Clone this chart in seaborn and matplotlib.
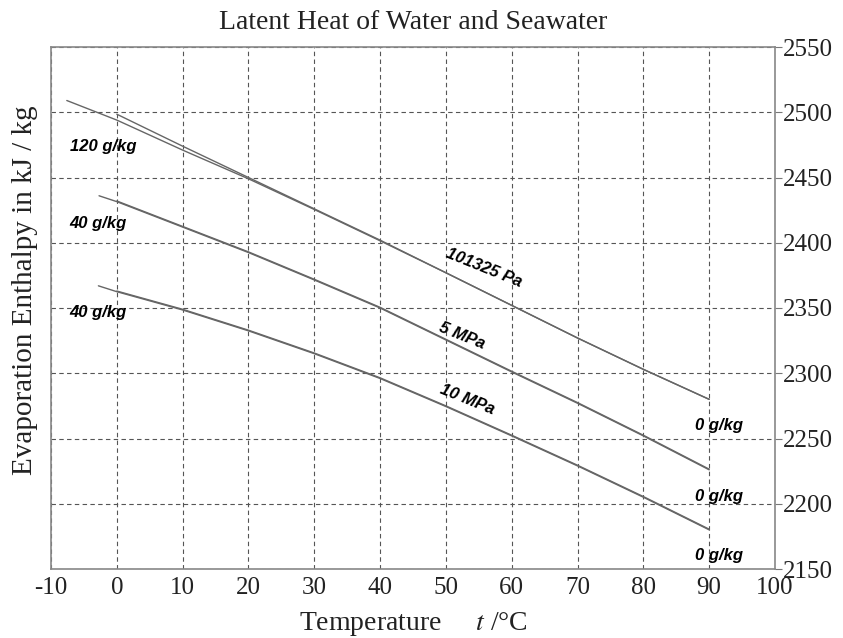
import pandas as pd
import matplotlib
matplotlib.use("Agg")
import matplotlib.pyplot as plt
import seaborn as sns

# temperatures in degC, enthalpies in kJ/kg
t_pure = [0, 10, 20, 30, 40, 50, 60, 70, 80, 90]

# 101325 Pa
atm_pure = [2498.5, 2474, 2450, 2426, 2402, 2377, 2352, 2327, 2303, 2280]
atm_salt_t = [-7.6, 0, 10, 20, 30, 40, 50, 60, 70, 80, 90]
atm_salt = [2509, 2494, 2471, 2449, 2425.5, 2401.5, 2377, 2352, 2327, 2303, 2280]

# 5 MPa
mp5_pure = [2432, 2412.5, 2393, 2372, 2350.5, 2326, 2301.5, 2277.5, 2252.5, 2226.5]
mp5_salt_t = [-2.7, 0, 10, 20, 30, 40, 50, 60, 70, 80, 90]
mp5_salt = [2436, 2431.5, 2412, 2392.5, 2371.5, 2350, 2325.5, 2301, 2277, 2252, 2226]

# 10 MPa
mp10_pure = [2363, 2349, 2333, 2315.5, 2296.5, 2275, 2252.5, 2229.5, 2205.5, 2180.5]
mp10_salt_t = [-2.8, 0, 10, 20, 30, 40, 50, 60, 70, 80, 90]
mp10_salt = [2367, 2362.5, 2348.5, 2332.5, 2315, 2296, 2274.5, 2252, 2229, 2205, 2180]

series = {
    "101325 Pa, 0 g/kg": (t_pure, atm_pure),
    "101325 Pa, 120 g/kg": (atm_salt_t, atm_salt),
    "5 MPa, 0 g/kg": (t_pure, mp5_pure),
    "5 MPa, 40 g/kg": (mp5_salt_t, mp5_salt),
    "10 MPa, 0 g/kg": (t_pure, mp10_pure),
    "10 MPa, 40 g/kg": (mp10_salt_t, mp10_salt),
}
frames = []
for name, (tt, hh) in series.items():
    frames.append(pd.DataFrame({"t": tt, "h": hh, "curve": name}))
df = pd.concat(frames, ignore_index=True)

sns.set_style("white")
plt.rcParams["font.family"] = ["Liberation Serif", "DejaVu Serif"]
plt.rcParams["mathtext.fontset"] = "stix"
plt.rcParams["axes.unicode_minus"] = False

fig = plt.figure(figsize=(8.43, 6.38), dpi=100)
ax = fig.add_axes([51 / 843, 1 - 569 / 638, 724 / 843, 522 / 638])

sns.lineplot(data=df, x="t", y="h", units="curve", estimator=None,
             color="#666666", lw=1.0, sort=False, ax=ax)

ax.set_xlim(-10, 100)
ax.set_ylim(2150, 2550)
ax.set_xticks(range(-10, 101, 10))
ax.set_yticks(range(2150, 2551, 50))
ax.yaxis.tick_right()
ax.yaxis.set_label_position("left")
ax.tick_params(direction="out", length=5, width=0.8, color="#777777",
               labelsize=18, pad=1, labelcolor="#222222")
ax.grid(True, linestyle=(0, (4, 3)), color="#555555", lw=0.8)
for s in ax.spines.values():
    s.set_color("#888888")
    s.set_linewidth(1.2)

ax.set_title("Latent Heat of Water and Seawater", fontsize=20, pad=13,
             color="#222222")
ax.set_ylabel("Evaporation Enthalpy in kJ / kg", fontsize=21,
              color="#222222")
ax.yaxis.set_label_coords(-0.018, 0.534)
ax.set_xlabel("Temperature     $t$ /°C", fontsize=20, labelpad=8,
              color="#222222")

lab = dict(fontsize=12, fontweight="bold", fontstyle="italic", color="black",
           family=["Liberation Sans", "DejaVu Sans"], ha="center", va="center")
ax.text(-2.1, 2473.4, "120 g/kg", **lab)
ax.text(-2.9, 2414.4, "40 g/kg", **lab)
ax.text(-2.9, 2346.2, "40 g/kg", **lab)
ax.text(55.8, 2380.7, "101325 Pa", rotation=-22, **lab)
ax.text(52.4, 2328.5, "5 MPa", rotation=-22, **lab)
ax.text(53.2, 2279.5, "10 MPa", rotation=-22, **lab)
ax.text(91.5, 2259.6, "0 g/kg", **lab)
ax.text(91.5, 2205.9, "0 g/kg", **lab)
ax.text(91.5, 2160, "0 g/kg", **lab)

fig.savefig("out.png", dpi=100)
